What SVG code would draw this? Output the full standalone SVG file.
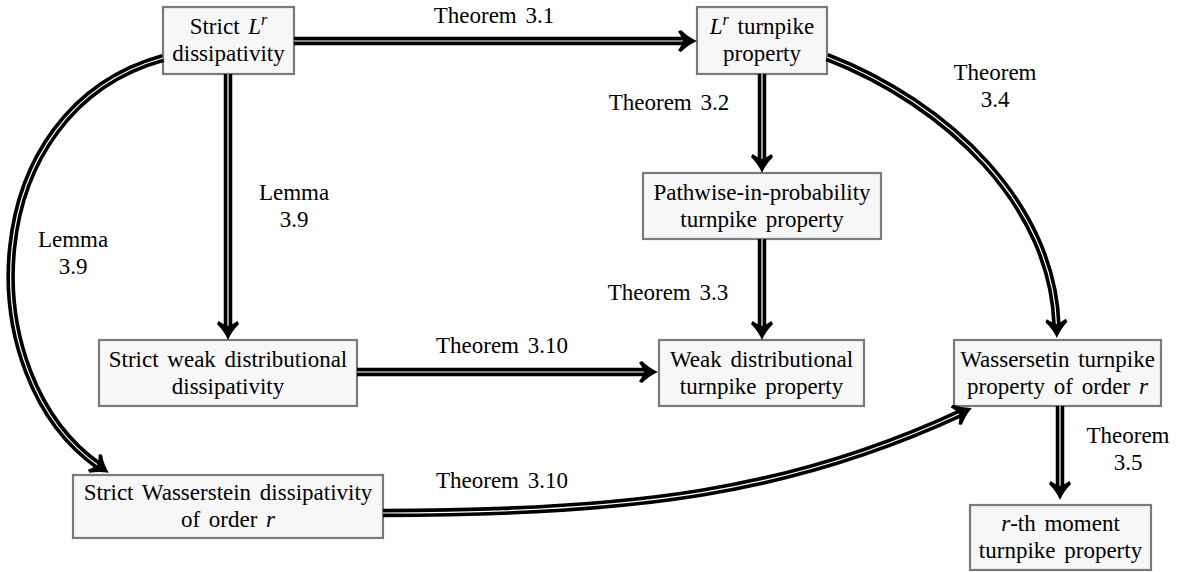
<svg xmlns="http://www.w3.org/2000/svg" width="1178" height="572" viewBox="0 0 1178 572">
<style>
.box{fill:#f7f7f7;stroke:#7a7a7a;stroke-width:2.2}
.t{font-family:'Liberation Serif','Times New Roman',serif;font-size:23px;text-anchor:middle;word-spacing:3px;fill:#000}
.i{font-style:italic}
.sup{font-style:italic;font-size:16px}
.outer{fill:none;stroke:#000;stroke-width:8.5}
.inner{fill:none;stroke:#fff;stroke-width:1.2;marker-end:url(#ah)}
</style>
<defs>
<marker id="ah" markerUnits="userSpaceOnUse" viewBox="-16 -16 32 32" markerWidth="32" markerHeight="32" refX="0" refY="0" orient="auto" overflow="visible">
<path d="M12,0 Q3,-4 -4,-11 L-7,-9.5 Q-4,-5.5 -2,0 Q-4,5.5 -7,9.5 L-4,11 Q3,4 12,0 Z" fill="#000"/>
</marker>
</defs>
<rect width="1178" height="572" fill="#fff"/>

<g id="nodeA">
<rect class="box" x="163" y="7" width="131" height="67"/>
<text class="t" x="228.5" y="34">Strict <tspan class="i">L</tspan><tspan class="sup" dy="-9">r</tspan></text>
<text class="t" x="228.5" y="61">dissipativity</text>
</g>
<g id="nodeB">
<rect class="box" x="697" y="7" width="130" height="67"/>
<text class="t" x="762" y="34"><tspan class="i">L</tspan><tspan class="sup" dy="-9">r</tspan><tspan dy="9"> turnpike</tspan></text>
<text class="t" x="762" y="61">property</text>
</g>
<g id="nodeC">
<rect class="box" x="643" y="173" width="238" height="66"/>
<text class="t" x="762" y="200">Pathwise-in-probability</text>
<text class="t" x="762" y="227">turnpike property</text>
</g>
<g id="nodeD">
<rect class="box" x="99" y="340" width="258" height="66"/>
<text class="t" x="228" y="367">Strict weak distributional</text>
<text class="t" x="228" y="394">dissipativity</text>
</g>
<g id="nodeE">
<rect class="box" x="659" y="340" width="205" height="66"/>
<text class="t" x="761.5" y="367">Weak distributional</text>
<text class="t" x="761.5" y="394">turnpike property</text>
</g>
<g id="nodeF">
<rect class="box" x="954" y="340" width="207" height="66"/>
<text class="t" x="1057.5" y="367">Wassersetin turnpike</text>
<text class="t" x="1057.5" y="394">property of order <tspan class="i">r</tspan></text>
</g>
<g id="nodeG">
<rect class="box" x="970" y="505" width="181" height="65"/>
<text class="t" x="1060.5" y="531"><tspan class="i">r</tspan>-th moment</text>
<text class="t" x="1060.5" y="558">turnpike property</text>
</g>
<g id="nodeH">
<rect class="box" x="73" y="475" width="310" height="63"/>
<text class="t" x="228" y="500">Strict Wasserstein dissipativity</text>
<text class="t" x="228" y="527">of order <tspan class="i">r</tspan></text>
</g>

<g id="connectors">
<path class="outer" d="M294,41 L685,41"/>
<path class="inner" d="M294,41 L685,41"/>
<path class="outer" d="M228,74 L228,328"/>
<path class="inner" d="M228,74 L228,328"/>
<path class="outer" d="M163,58 C-25,110 -30,376 99,466"/>
<path class="inner" d="M163,58 C-25,110 -30,376 99,466"/>
<path class="outer" d="M762,74 L762,161"/>
<path class="inner" d="M762,74 L762,161"/>
<path class="outer" d="M762,239 L762,328"/>
<path class="inner" d="M762,239 L762,328"/>
<path class="outer" d="M827,57 C948,104 1053,205 1056.5,326"/>
<path class="inner" d="M827,57 C948,104 1053,205 1056.5,326"/>
<path class="outer" d="M357,372 L646,372"/>
<path class="inner" d="M357,372 L646,372"/>
<path class="outer" d="M383,513 C633,513 791,492 961,413"/>
<path class="inner" d="M383,513 C633,513 791,492 961,413"/>
<path class="outer" d="M1060,406 L1060,488"/>
<path class="inner" d="M1060,406 L1060,488"/>
</g>

<g id="labels">
<text class="t" x="494" y="23">Theorem 3.1</text>
<text class="t" x="294" y="200">Lemma</text>
<text class="t" x="294" y="227">3.9</text>
<text class="t" x="73" y="247">Lemma</text>
<text class="t" x="73" y="274">3.9</text>
<text class="t" x="669" y="110">Theorem 3.2</text>
<text class="t" x="668" y="300">Theorem 3.3</text>
<text class="t" x="995" y="80">Theorem</text>
<text class="t" x="995" y="107">3.4</text>
<text class="t" x="502" y="353">Theorem 3.10</text>
<text class="t" x="502" y="488">Theorem 3.10</text>
<text class="t" x="1128" y="443">Theorem</text>
<text class="t" x="1128" y="470">3.5</text>
</g>
</svg>
